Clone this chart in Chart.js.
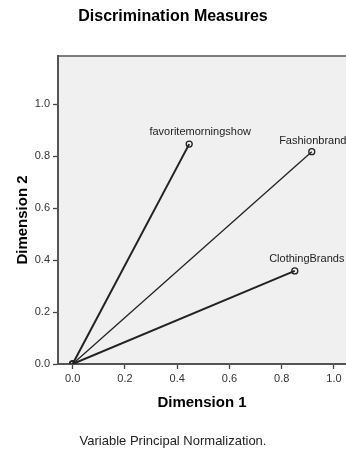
<!DOCTYPE html>
<html>
<head>
<meta charset="utf-8">
<script src="https://cdn.jsdelivr.net/npm/chart.js@4"></script>
<style>
html,body{margin:0;padding:0;background:#fff;}
#wrap{width:346px;height:451px;position:relative;}
</style>
</head>
<body>
<div id="wrap"><canvas id="c" width="346" height="451"></canvas></div>
<script>
// ---- data ----
const variables = ["favoritemorningshow", "Fashionbrand", "ClothingBrands"];
const dim1 = [0.446, 0.915, 0.850];
const dim2 = [0.846, 0.817, 0.358];
const xTicks = [0.0, 0.2, 0.4, 0.6, 0.8, 1.0];
const yTicks = [0.0, 0.2, 0.4, 0.6, 0.8, 1.0];

const FONT = "'Liberation Sans', Arial, sans-serif";
const lineWidths = [2, 1.3, 2];
const labelDx = [11, 1, 12];
const labelDy = [-12, -11, -12];

const datasets = variables.map((v, i) => ({
  label: v,
  data: [{x: 0, y: 0}, {x: dim1[i], y: dim2[i]}],
  showLine: true,
  borderColor: '#222',
  borderWidth: lineWidths[i],
  pointRadius: 3,
  pointBorderWidth: 1.3,
  pointBorderColor: '#222',
  pointBackgroundColor: 'rgba(0,0,0,0)',
  pointStyle: 'circle'
}));

const noPad = () => ({left: 0, top: 0, right: 0, bottom: 0});

const bgPlugin = {
  id: 'bg',
  beforeDraw(chart) {
    const {ctx, chartArea: a} = chart;
    ctx.save();
    ctx.fillStyle = '#f0f0f0';
    ctx.fillRect(a.left, a.top, a.right - a.left, a.bottom - a.top);
    ctx.strokeStyle = '#555';
    ctx.lineWidth = 1.5;
    ctx.beginPath();
    ctx.moveTo(a.left, a.top);
    ctx.lineTo(a.right + 2, a.top);
    ctx.stroke();
    ctx.restore();
  }
};

const labelPlugin = {
  id: 'ptlabels',
  afterDatasetsDraw(chart) {
    const {ctx, scales: {x, y}} = chart;
    ctx.save();
    ctx.font = "11px " + FONT;
    ctx.fillStyle = '#222';
    ctx.textAlign = 'center';
    ctx.textBaseline = 'middle';
    variables.forEach((v, i) => {
      const px = x.getPixelForValue(dim1[i]);
      const py = y.getPixelForValue(dim2[i]);
      ctx.fillText(v, px + labelDx[i], py + labelDy[i]);
    });
    // y axis title
    ctx.font = "bold 15px " + FONT;
    ctx.fillStyle = '#000';
    ctx.translate(23, 220);
    ctx.rotate(-Math.PI / 2);
    ctx.fillText('Dimension 2', 0, 0);
    ctx.restore();
  }
};

new Chart(document.getElementById('c'), {
  type: 'scatter',
  data: {datasets},
  options: {
    responsive: false,
    animation: false,
    devicePixelRatio: 1,
    layout: {autoPadding: false, padding: {left: 0, right: 0, top: 0, bottom: 0}},
    plugins: {
      legend: {display: false},
      tooltip: {enabled: false},
      title: {
        display: true,
        text: 'Discrimination Measures',
        color: '#000',
        font: {family: FONT, size: 16, weight: 'bold'},
        padding: {top: 7.4, bottom: 29.4}
      },
      subtitle: {
        display: true,
        position: 'bottom',
        text: 'Variable Principal Normalization.',
        color: '#222',
        font: {family: FONT, size: 13, weight: 'normal'},
        padding: {top: 10, bottom: 2.2}
      }
    },
    scales: {
      x: {
        type: 'linear',
        min: -0.056,
        max: 1.046,
        afterFit(s) { s.height = 59.2; s.paddingLeft = 0; s.paddingRight = 0; s.getPadding = noPad; },
        afterBuildTicks(s) { s.ticks = xTicks.map(v => ({value: v})); },
        ticks: {
          color: '#333',
          font: {family: FONT, size: 11},
          padding: 3,
          callback: v => v.toFixed(1)
        },
        grid: {drawOnChartArea: false, drawTicks: true, tickLength: 5, color: '#444', tickWidth: 1.3},
        border: {display: true, color: '#555', width: 2},
        title: {
          display: true,
          text: 'Dimension 1',
          color: '#000',
          font: {family: FONT, size: 15, weight: 'bold'},
          padding: {top: 0, bottom: 11.2}
        }
      },
      y: {
        type: 'linear',
        min: 0,
        max: 1.185,
        afterFit(s) { s.width = 58; s.paddingTop = 0; s.paddingBottom = 0; s.getPadding = noPad; },
        afterBuildTicks(s) { s.ticks = yTicks.map(v => ({value: v})); },
        ticks: {
          color: '#333',
          font: {family: FONT, size: 11},
          padding: 3,
          callback: v => v.toFixed(1)
        },
        grid: {drawOnChartArea: false, drawTicks: true, tickLength: 5, color: '#444', tickWidth: 1.3},
        border: {display: true, color: '#555', width: 2},
        title: {display: false}
      }
    }
  },
  plugins: [bgPlugin, labelPlugin]
});
</script>
</body>
</html>
